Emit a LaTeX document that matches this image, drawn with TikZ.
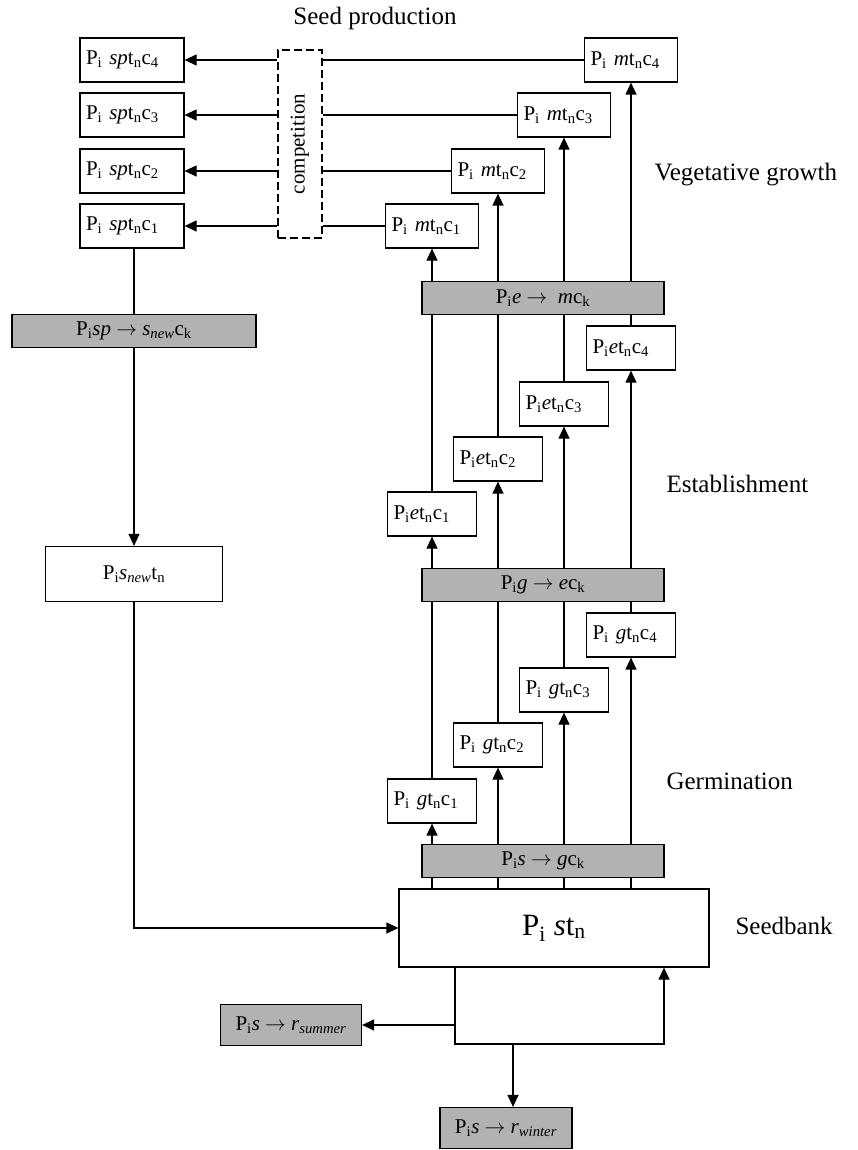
\documentclass[tikz,border=0pt]{standalone}
\usepackage{fontspec}
\setmainfont{Liberation Serif}
\usetikzlibrary{arrows.meta}

\begin{document}
\begin{tikzpicture}[x=1pt, y=-1pt,
	every node/.style={font=\fontsize{21}{25}\selectfont},
	box/.style={rectangle, draw, line width=1.2pt, minimum height=44pt, inner xsep=6pt, inner ysep=0pt, align=left},
	sbox/.style={box, text width=92pt},
	mbox/.style={box, text width=81pt},
	ebox/.style={box, text width=77pt},
	procbox/.style={rectangle, draw, line width=1.2pt, fill=black!30, minimum height=33pt, inner sep=0pt},
	stagetext/.style={anchor=west, font=\fontsize{25}{30}\selectfont},
	line/.style={line width=1.2pt},
	arrow/.style={-{Triangle[length=12pt,width=11pt]}, line width=1.2pt}]
	\useasboundingbox (0,0) rectangle (857,1150);

	% stage labels
	\node (seedprod) [font=\fontsize{25}{30}\selectfont] at (375,18) {Seed production};
	\node (veg) [stagetext] at (651,175) {Vegetative growth};
	\node (estab) [stagetext] at (663,484) {Establishment};
	\node (germ) [stagetext] at (663,781) {Germination};
	\node (bank) [stagetext] at (732,926) {Seedbank};

	% seed production
	\node (spt4) [sbox] at (132,60) {P\textsubscript{i} \textit{sp}t\textsubscript{n}c\textsubscript{4}};
	\node (spt3) [sbox] at (132,115) {P\textsubscript{i} \textit{sp}t\textsubscript{n}c\textsubscript{3}};
	\node (spt2) [sbox] at (132,171) {P\textsubscript{i} \textit{sp}t\textsubscript{n}c\textsubscript{2}};
	\node (spt1) [sbox] at (132,226) {P\textsubscript{i} \textit{sp}t\textsubscript{n}c\textsubscript{1}};
	\node (comp) [draw, line width=1.2pt, dash pattern=on 8pt off 4pt, minimum width=44pt, minimum height=188pt] at (300,144) {};
	\node (comptext) [rotate=90] at (comp) {competition};

	% vegetative growth
	\node (mt1) [mbox] at (432,226) {P\textsubscript{i} \textit{m}t\textsubscript{n}c\textsubscript{1}};
	\node (mt2) [mbox] at (498,171) {P\textsubscript{i} \textit{m}t\textsubscript{n}c\textsubscript{2}};
	\node (mt3) [mbox] at (564,115) {P\textsubscript{i} \textit{m}t\textsubscript{n}c\textsubscript{3}};
	\node (mt4) [mbox] at (631,60) {P\textsubscript{i} \textit{m}t\textsubscript{n}c\textsubscript{4}};
	\node (em) [procbox, minimum width=242pt] at (543,298) {P\textsubscript{i}\textit{e} $\rightarrow$\ \ \textit{m}c\textsubscript{k}};

	% establishment
	\node (et1) [ebox] at (432,514) {P\textsubscript{i}\textit{e}t\textsubscript{n}c\textsubscript{1}};
	\node (et2) [ebox] at (498,459) {P\textsubscript{i}\textit{e}t\textsubscript{n}c\textsubscript{2}};
	\node (et3) [ebox] at (564,404) {P\textsubscript{i}\textit{e}t\textsubscript{n}c\textsubscript{3}};
	\node (et4) [ebox] at (631,348) {P\textsubscript{i}\textit{e}t\textsubscript{n}c\textsubscript{4}};
	\node (ge) [procbox, minimum width=242pt] at (543,585) {P\textsubscript{i}\textit{g} $\rightarrow$ \textit{e}c\textsubscript{k}};

	% germination
	\node (gt1) [ebox] at (432,801) {P\textsubscript{i} \textit{g}t\textsubscript{n}c\textsubscript{1}};
	\node (gt2) [ebox] at (498,745) {P\textsubscript{i} \textit{g}t\textsubscript{n}c\textsubscript{2}};
	\node (gt3) [ebox] at (564,690) {P\textsubscript{i} \textit{g}t\textsubscript{n}c\textsubscript{3}};
	\node (gt4) [ebox] at (631,635) {P\textsubscript{i} \textit{g}t\textsubscript{n}c\textsubscript{4}};
	\node (sg) [procbox, minimum width=242pt] at (543,861) {P\textsubscript{i}\textit{s} $\rightarrow$ \textit{g}c\textsubscript{k}};

	% seedbank and new seeds
	\node (seedbank) [box, minimum width=310pt, minimum height=78pt, font=\fontsize{31}{36}\selectfont] at (554,928) {P\textsubscript{i} \textit{s}t\textsubscript{n}};
	\node (sp) [procbox, minimum width=244pt] at (134,331) {P\textsubscript{i}\textit{sp} $\rightarrow$ \textit{s}\textsubscript{\textit{new}}c\textsubscript{k}};
	\node (snew) [box, minimum width=177pt, minimum height=55pt] at (134,574) {P\textsubscript{i}\textit{s}\textsubscript{\textit{new}}t\textsubscript{n}};
	\node (summer) [procbox, minimum width=141pt, minimum height=41pt] at (291,1025) {P\textsubscript{i}\textit{s} $\rightarrow$ \textit{r}\textsubscript{\textit{summer}}};
	\node (winter) [procbox, minimum width=132pt, minimum height=41pt] at (506,1128) {P\textsubscript{i}\textit{s} $\rightarrow$ \textit{r}\textsubscript{\textit{winter}}};
	\coordinate (loopL) at (455,1044);
	\coordinate (loopR) at (664,1044);
	\coordinate (loopW) at (513,1044);

	% seedbank to germination
	\draw [line] (seedbank.north -| gt1) -- (sg.south -| gt1);
	\draw [line] (seedbank.north -| gt2) -- (sg.south -| gt2);
	\draw [line] (seedbank.north -| gt3) -- (sg.south -| gt3);
	\draw [line] (seedbank.north -| gt4) -- (sg.south -| gt4);
	\draw [arrow] (sg.north -| gt1) -- (gt1.south);
	\draw [arrow] (sg.north -| gt2) -- (gt2.south);
	\draw [arrow] (sg.north -| gt3) -- (gt3.south);
	\draw [arrow] (sg.north -| gt4) -- (gt4.south);

	% germination to establishment
	\draw [line] (gt1.north) -- (ge.south -| gt1);
	\draw [line] (gt2.north) -- (ge.south -| gt2);
	\draw [line] (gt3.north) -- (ge.south -| gt3);
	\draw [line] (gt4.north) -- (ge.south -| gt4);
	\draw [arrow] (ge.north -| et1) -- (et1.south);
	\draw [arrow] (ge.north -| et2) -- (et2.south);
	\draw [arrow] (ge.north -| et3) -- (et3.south);
	\draw [arrow] (ge.north -| et4) -- (et4.south);

	% establishment to vegetative growth
	\draw [line] (et1.north) -- (em.south -| et1);
	\draw [line] (et2.north) -- (em.south -| et2);
	\draw [line] (et3.north) -- (em.south -| et3);
	\draw [line] (et4.north) -- (em.south -| et4);
	\draw [arrow] (em.north -| mt1) -- (mt1.south);
	\draw [arrow] (em.north -| mt2) -- (mt2.south);
	\draw [arrow] (em.north -| mt3) -- (mt3.south);
	\draw [arrow] (em.north -| mt4) -- (mt4.south);

	% competition
	\draw [line] (mt1.west) -- (comp.east |- mt1.west);
	\draw [line] (mt2.west) -- (comp.east |- mt2.west);
	\draw [line] (mt3.west) -- (comp.east |- mt3.west);
	\draw [line] (mt4.west) -- (comp.east |- mt4.west);
	\draw [arrow] (comp.west |- spt1.east) -- (spt1.east);
	\draw [arrow] (comp.west |- spt2.east) -- (spt2.east);
	\draw [arrow] (comp.west |- spt3.east) -- (spt3.east);
	\draw [arrow] (comp.west |- spt4.east) -- (spt4.east);

	% new seeds back to the seedbank
	\draw [line] (spt1.south -| sp) -- (sp.north);
	\draw [arrow] (sp.south) -- (snew.north);
	\draw [arrow] (snew.south) |- (seedbank.west);

	% losses
	\draw [arrow] (seedbank.south -| loopL) -- (loopL) -- (loopR) -- (seedbank.south -| loopR);
	\draw [arrow] (summer.east -| loopL) -- (summer.east);
	\draw [arrow] (loopW) -- (loopW |- winter.north);

	\end{tikzpicture}
\end{document}
